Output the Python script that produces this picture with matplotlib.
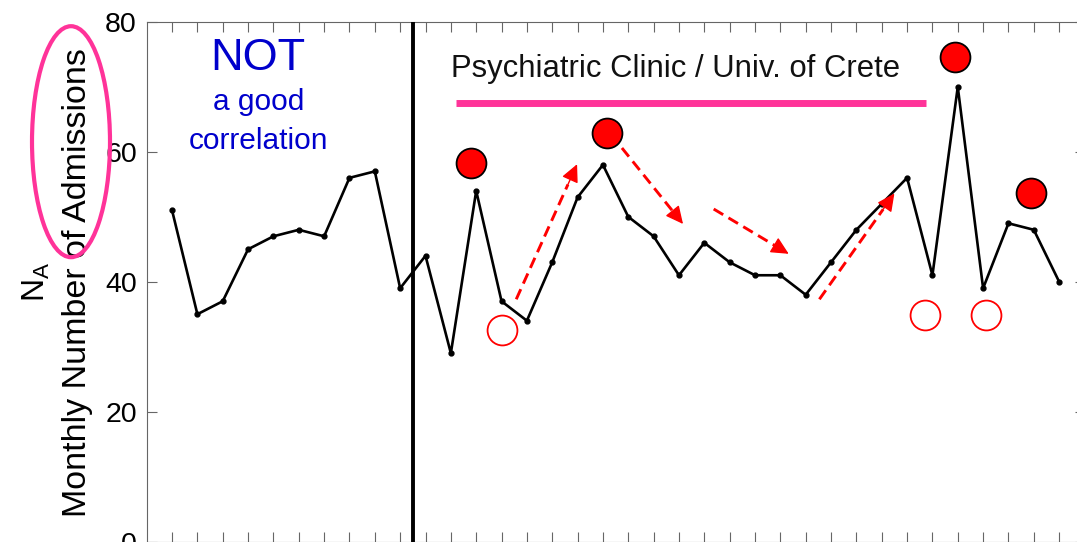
import numpy as np
import matplotlib
matplotlib.use("Agg")
import matplotlib.pyplot as plt
from matplotlib.patches import Ellipse
from matplotlib import transforms

plt.rcParams['font.family'] = ['Liberation Sans', 'DejaVu Sans']
plt.rcParams['mathtext.default'] = 'regular'

# Monthly admissions (36 months)
months = np.arange(1, 37)
admissions = [51, 35, 37, 45, 47, 48, 47, 56, 57, 39,
              44, 29, 54, 37, 34, 43, 53, 58, 50, 47,
              41, 46, 43, 41, 41, 38, 43, 48, 52, 56,
              41, 70, 39, 49, 48, 40]

# highlighted months (filled = peaks, open = troughs) and small nudges
peak_months = [13, 18, 32, 35]
peak_dx = [-0.2, 0.17, -0.1, -0.1]
peak_dy = [4.3, 4.9, 4.6, 5.6]
low_months = [14, 31, 33]
low_dx = [0.0, -0.3, 0.1]
low_dy = [-4.4, -6.1, -4.1]

# trend arrows (start -> end, data coords)
arrow_start = [(14.58, 37.3), (18.75, 60.6), (22.37, 51.2), (26.54, 37.3)]
arrow_end = [(16.98, 58.1), (21.16, 48.9), (25.33, 44.3), (29.5, 53.6)]

split_x = 10.5
clinic_span = (12.21, 30.73)
clinic_y = 67.5
yticks = [0, 20, 40, 60, 80]

pink = '#FF3399'
blue = '#0000CC'
spine_gray = '#666666'

W, H = 1077, 542
fig = plt.figure(figsize=(W / 100, H / 100), dpi=100)
ax = fig.add_axes([146.7 / W, 0.5 / H, 937.8 / W, 519.5 / H])
ax.set_xlim(0, 37)
ax.set_ylim(0, 80)

ax.plot(months, admissions, color='black', lw=1.9, marker='o', ms=3.5, zorder=3)
ax.axvline(split_x, color='black', lw=2.8, zorder=4)

# pink bar and clinic label
ax.plot(clinic_span, [clinic_y, clinic_y], color=pink, lw=5, solid_capstyle='butt')
ax.text(20.85, 71.6, 'Psychiatric Clinic / Univ. of Crete',
        fontsize=22.3, ha='center', va='baseline', color='#111111')

# highlight circles
adm = dict(zip(months, admissions))
px = [m + d for m, d in zip(peak_months, peak_dx)]
py = [adm[m] + d for m, d in zip(peak_months, peak_dy)]
ax.plot(px, py, 'o', ms=21.5, mfc='#FF0000', mec='black', mew=1.3, ls='none', zorder=5)
lx = [m + d for m, d in zip(low_months, low_dx)]
ly = [adm[m] + d for m, d in zip(low_months, low_dy)]
ax.plot(lx, ly, 'o', ms=21.5, mfc='none', mec='#FF0000', mew=1.3, ls='none', zorder=5)

# dashed trend arrows: dashed shaft + solid filled head
for s, e in zip(arrow_start, arrow_end):
    s, e = np.array(s), np.array(e)
    near = e - 0.15 * (e - s)
    ax.plot([s[0], near[0]], [s[1], near[1]], color='#FF0000', lw=2.1,
            ls=(0, (3.8, 2.1)), zorder=4)
    ax.annotate('', xy=tuple(e), xytext=tuple(near),
                arrowprops=dict(arrowstyle='-|>,head_length=0.45,head_width=0.22',
                                color='#FF0000', lw=1.0, mutation_scale=24,
                                shrinkA=0, shrinkB=0), zorder=4)

# "NOT a good correlation"
ax.text(4.4, 72.6, 'NOT', fontsize=32.5, color=blue, ha='center', va='baseline')
ax.text(4.42, 66.4, 'a good', fontsize=21.5, color=blue, ha='center', va='baseline')
ax.text(4.42, 60.4, 'correlation', fontsize=21.5, color=blue, ha='center', va='baseline')

# axes styling
ax.set_yticks(yticks)
ax.set_xticks(months)
ax.set_xticklabels([])
ax.tick_params(axis='both', direction='in', length=7.2, width=0.8, color=spine_gray,
               top=True, right=True, labelsize=20.5, pad=7)
for sp in ax.spines.values():
    sp.set_color(spine_gray)
    sp.set_linewidth(0.8)

# y-axis labels
bt = transforms.blended_transform_factory(ax.transAxes, ax.transData)
ax.text(-0.0743, 39.8, 'Monthly Number of Admissions', rotation=90, fontsize=24.5,
        ha='center', va='center', transform=bt, clip_on=False)
ax.text(-0.118, 40.0, r'$N_A$', rotation=90, fontsize=23,
        ha='center', va='center', transform=bt, clip_on=False)

# pink ellipse around the label
ell = Ellipse((71 / W, 1 - 141.7 / H), 78 / W, 231 / H, transform=fig.transFigure,
              fill=False, edgecolor=pink, lw=3, zorder=10)
fig.add_artist(ell)

fig.savefig('out.png', dpi=100)
